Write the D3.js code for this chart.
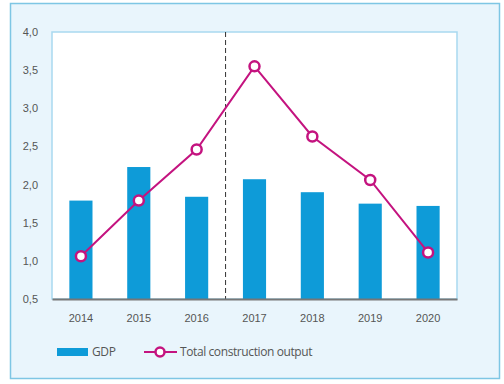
<!DOCTYPE html>
<html>
<head>
<meta charset="utf-8">
<script src="https://cdn.jsdelivr.net/npm/d3@7"></script>
<style>
  html, body { margin: 0; padding: 0; background: #fff; }
  svg { display: block; font-family: 'Open Sans', 'Liberation Sans', sans-serif; }
  .tick text { fill: #555; font-size: 11px; }
  .legend text { fill: #555; font-size: 12px; letter-spacing: -0.4px; }
</style>
</head>
<body>
<div class="chart"></div>
<script>
const years = ['2014', '2015', '2016', '2017', '2018', '2019', '2020']
const gdp = [1.79, 2.23, 1.84, 2.07, 1.90, 1.75, 1.72]
const construction = [1.06, 1.79, 2.46, 3.55, 2.63, 2.06, 1.11]
const yTicks = [0.5, 1.0, 1.5, 2.0, 2.5, 3.0, 3.5, 4.0]

const fullWidth = 504
const fullHeight = 384
const margin = { top: 32, right: 47, bottom: 85, left: 52 }
const width = fullWidth - margin.left - margin.right
const height = fullHeight - margin.top - margin.bottom

const blue = '#0e9bd8'
const magenta = '#c4137f'

const svg = d3.select('.chart')
  .append('svg')
    .attr('width', fullWidth)
    .attr('height', fullHeight)

// outer panel
svg.append('rect')
  .attr('x', 10.5).attr('y', 3.5)
  .attr('width', 489).attr('height', 375)
  .attr('fill', '#e9f5fc')
  .attr('stroke', '#7ec6e4')
  .attr('stroke-width', 1.5)

const g = svg.append('g')
  .attr('transform', `translate(${margin.left}, ${margin.top})`)

// scales
const x = d3.scaleBand()
  .domain(years)
  .range([0, width])
  .paddingInner(0.6)
  .paddingOuter(0.3)

const y = d3.scaleLinear()
  .domain([0.5, 4.0])
  .range([height, 0])

// plot background
g.append('rect')
  .attr('width', width).attr('height', height)
  .attr('fill', '#fff')
  .attr('stroke', '#a9d9ef')
  .attr('stroke-width', 1.5)

// y axis labels
const fmt = d => d3.format('.1f')(d).replace('.', ',')
const yAxis = d3.axisLeft(y).tickValues(yTicks).tickFormat(fmt).tickSize(0).tickPadding(14)
g.append('g')
  .call(yAxis)
  .call(s => s.select('.domain').remove())

// bars
g.selectAll('.bar')
  .data(years)
  .enter()
    .append('rect')
    .attr('class', 'bar')
    .attr('x', d => x(d))
    .attr('y', (d, i) => y(gdp[i]))
    .attr('width', x.bandwidth())
    .attr('height', (d, i) => height - y(gdp[i]))
    .attr('fill', blue)

// dashed divider between 2016 and 2017
const step = x.step()
const divX = x('2017') - (step - x.bandwidth()) / 2
g.append('line')
  .attr('x1', divX).attr('x2', divX)
  .attr('y1', 0).attr('y2', height)
  .attr('stroke', '#333')
  .attr('stroke-width', 1)
  .attr('stroke-dasharray', '5,3')

// x axis
const xAxis = d3.axisBottom(x).tickSize(0).tickPadding(15)
g.append('g')
  .attr('transform', `translate(0, ${height})`)
  .call(xAxis)
  .call(s => s.select('.domain').attr('stroke', '#777').attr('stroke-width', 2))

// line
const cx = d => x(d) + x.bandwidth() / 2
const line = d3.line()
  .x((d, i) => cx(years[i]))
  .y(d => y(d))

g.append('path')
  .datum(construction)
  .attr('d', line)
  .attr('fill', 'none')
  .attr('stroke', magenta)
  .attr('stroke-width', 2)

g.selectAll('.dot')
  .data(construction)
  .enter()
    .append('circle')
    .attr('class', 'dot')
    .attr('cx', (d, i) => cx(years[i]))
    .attr('cy', d => y(d))
    .attr('r', 5)
    .attr('fill', '#fff')
    .attr('stroke', magenta)
    .attr('stroke-width', 2.5)

// legend
const legend = svg.append('g').attr('class', 'legend').attr('transform', 'translate(0, 352)')
legend.append('rect')
  .attr('x', 57).attr('y', -4)
  .attr('width', 31).attr('height', 8)
  .attr('fill', blue)
legend.append('text')
  .attr('x', 92).attr('y', 0).attr('dy', '0.35em')
  .text('GDP')
legend.append('line')
  .attr('x1', 144).attr('x2', 177)
  .attr('y1', 0).attr('y2', 0)
  .attr('stroke', magenta).attr('stroke-width', 2)
legend.append('circle')
  .attr('cx', 160).attr('cy', 0).attr('r', 4.5)
  .attr('fill', '#fff').attr('stroke', magenta).attr('stroke-width', 2.5)
legend.append('text')
  .attr('x', 180).attr('y', 0).attr('dy', '0.35em')
  .text('Total construction output')
</script>
</body>
</html>
